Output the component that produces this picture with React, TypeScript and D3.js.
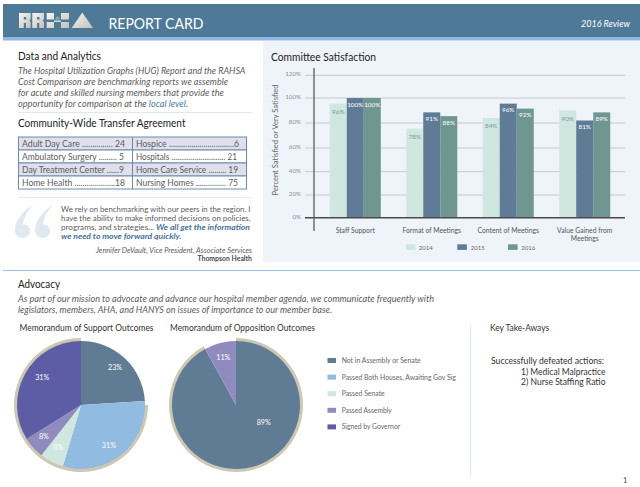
import React from "react";
import * as d3 from "d3";

const FONT = "Lato, 'Noto Sans', sans-serif";

const categories = ["Staff Support", "Format of Meetings", "Content of Meetings", "Value Gained from|Meetings"];
const years = ["2014", "2015", "2016"];
const barHeights = [
  [95.5, 100, 100],
  [75.5, 88.5, 85.5],
  [84, 95.5, 91.5],
  [90, 82, 88.5],
];
const barLabels = [
  ["96%", "100%", "100%"],
  ["78%", "91%", "88%"],
  ["84%", "96%", "92%"],
  ["90%", "81%", "89%"],
];
const yTicks = [0, 20, 40, 60, 80, 100, 120];
const yRange = [217.7, 195, 171.7, 148, 123, 98, 75.3];
const yearColors = ["#cfe7df", "#607b96", "#6f9690"];

const outcomeNames = ["Not in Assembly or Senate", "Passed Both Houses, Awaiting Gov Sig", "Passed Senate", "Passed Assembly", "Signed by Governor"];
const outcomeColors = ["#607b94", "#92bbe1", "#cfe7df", "#8f8bbf", "#5d5da5"];
const supportShares = [24, 30.6, 6, 5.5, 33.9];
const supportLabels = ["23%", "31%", "8%", "8%", "31%"];
const oppositionShares = [92, 8];
const oppositionLabels = ["89%", "11%"];
const oppositionColors = ["#607b94", "#8f8bbf"];

const tableLeft = ["Adult Day Care ............... 24", "Ambulatory Surgery ......... 5", "Day Treatment Center ......9", "Home Health ....................18"];
const tableRight = ["Hospice ................................6", "Hospitals ............................ 21", "Home Care Service ......... 19", "Nursing Homes ............... 75"];

const INK = "#222";
const BODY = "#5c5c5c";

function T({ x, y, w, s = 9, c = BODY, i = false, b = false, a = "start", children, ...rest }: any) {
  return (
    <text x={x} y={y} fontSize={s} fill={c} fontFamily={FONT} fontStyle={i ? "italic" : "normal"} fontWeight={b ? 700 : 400}
      textAnchor={a} textLength={w} lengthAdjust={w ? "spacingAndGlyphs" : undefined} {...rest}>{children}</text>
  );
}

function Pie({ cx, cy, shares, labels, colors, ringFrom, ringTo, nudges }: any) {
  const r = 64;
  const slices = d3.pie<number>().sort(null)(shares);
  const arc = d3.arc<any>().innerRadius(0).outerRadius(r);
  const lab = d3.arc<any>().innerRadius(r * 0.8).outerRadius(r * 0.8);
  const ring = d3.arc<any>().innerRadius(r - 1).outerRadius(r + 3)({ startAngle: ringFrom, endAngle: ringTo } as any) as string;
  return (
    <g transform={`translate(${cx},${cy})`}>
      <path d={ring} fill="#cdc8b4" />
      {slices.map((d, k) => <path key={k} d={arc(d) as string} fill={colors[k]} />)}
      {slices.map((d, k) => {
        const [px, py] = lab.centroid(d);
        return <T key={k} x={px + nudges[k][0]} y={py + nudges[k][1] + 2.5} s={7.2} c="#fff" a="middle">{labels[k]}</T>;
      })}
    </g>
  );
}

const QUOTE_MARK = "M33 205C24 210 15 220 15 230C15 235 18 238 22.5 238C27 238 30 235 30 231C30 227 27 224 23 224.5C24 217 28 210 33 205Z";

export default function App() {
  document.body.style.margin = "0";
  const x0 = d3.scaleBand<string>().domain(categories).range([317, 623]).paddingInner(0.333).paddingOuter(0.167);
  const x1 = d3.scaleBand<string>().domain(years).range([0, x0.bandwidth()]);
  const y = d3.scaleLinear().domain(yTicks).range(yRange);
  const T2 = Math.PI * 2;

  return (
    <svg width={640} height={487} style={{ position: "absolute", left: 0, top: 0, background: "#fff" }}>
      <defs>
        <linearGradient id="logo" x1="0" y1="0" x2="1" y2="1">
          <stop offset="0" stopColor="#f6f6f4" />
          <stop offset="1" stopColor="#c4c0b9" />
        </linearGradient>
      </defs>
      {/* header */}
      <rect x={3} y={4} width={637} height={33} fill="#4f7a97" />
      <rect x={3} y={37} width={637} height={3.5} fill="#8db8e3" />
      <g fill="url(#logo)">
        <path d="M19 13h11.7v6.5h-1v2h1V28h-4.7v-5h-2.2v5H19zM23.8 17v2.5h2.4V17z" fillRule="evenodd" />
        <path d="M32.3 13H44v6.5h-1v2h1V28h-4.7v-5h-2.2v5h-4.8zM37.1 17v2.5h2.4V17z" fillRule="evenodd" />
        <path d="M46.7 13H54v6.5h-7.3zM46.7 22H54v6h-7.3zM61 13h8v6.5h-8zM61 22h8v6h-8zM54 20.5h7v1.5h-7z" />
        <path d="M82.3 12.5L93 28H71.7z" />
      </g>
      <path d="M57.5 16l3 3.5h-6z" fill="#7fb3ad" />
      <T x={108.5} y={29} w={95} s={15} c="#fff">REPORT CARD</T>
      <T x={630} y={27} s={9} c="#fff" i a="end">2016 Review</T>

      {/* Data and Analytics */}
      <T x={18} y={60} w={83} s={11} c={INK}>Data and Analytics</T>
      <T x={18} y={73.5} w={227.5} i>The Hospital Utilization Graphs (HUG) Report and the RAHSA</T>
      <T x={18} y={84.5} w={210} i>Cost Comparison are benchmarking reports we assemble</T>
      <T x={18} y={95.5} w={206} i>for acute and skilled nursing members that provide the</T>
      <T x={18} y={106.5} w={170} i>opportunity for comparison at the <tspan fill="#4a7ba6">local level</tspan>.</T>
      <line x1={18} x2={252} y1={112.5} y2={112.5} stroke="#dfe8f2" />
      <T x={18} y={126.5} w={167.5} s={11} c={INK}>Community-Wide Transfer Agreement</T>

      {/* table */}
      {tableLeft.map((t, k) => (
        <g key={k}>
          <rect x={18.5} y={137 + k * 13} width={228} height={13} fill={k % 2 === 0 ? "#dfe0ec" : "#fff"} stroke="#6a8cab" strokeWidth={1} />
          <T x={22} y={146.8 + k * 13} w={[103, 102, 102, 103][k]} s={8.8}>{t}</T>
          <T x={136} y={146.8 + k * 13} w={[103, 101, 102, 102][k]} s={8.8}>{tableRight[k]}</T>
        </g>
      ))}
      <line x1={132.5} x2={132.5} y1={137} y2={189} stroke="#6a8cab" />
      <line x1={18} x2={252} y1={197.5} y2={197.5} stroke="#e6ecf3" />

      {/* quote */}
      <path d={QUOTE_MARK} fill="#e1e8ef" />
      <path d={QUOTE_MARK} fill="#e1e8ef" transform="translate(20,0)" />
      <T x={61} y={211.5} w={189.5} s={7.5}>We rely on benchmarking with our peers in the region. I</T>
      <T x={61} y={220.5} w={189.5} s={7.5}>have the ability to make informed decisions on policies,</T>
      <T x={61} y={229.8} w={93} s={7.5}>programs, and strategies...</T>
      <T x={156} y={229.8} w={94} s={7.5} c="#4a7199" i b>We all get the information</T>
      <T x={61} y={239} w={120.5} s={7.5} c="#4a7199" i b>we need to move forward quickly.</T>
      <T x={96} y={252.5} w={156} s={6.8} i>Jennifer DeVault, Vice President, Associate Services</T>
      <T x={197.5} y={261} w={54.5} s={6.8} c="#4a4a4a" b>Thompson Health</T>

      {/* chart panel */}
      <rect x={263} y={41} width={377} height={221} fill="#eff4fb" />
      <T x={271} y={60.5} w={105} s={11} c={INK}>Committee Satisfaction</T>
      {yTicks.map((t) => (
        <g key={t}>
          {t > 0 && <line x1={305} x2={625} y1={y(t)} y2={y(t)} stroke="#c6c9ca" strokeWidth={1} />}
          <T x={301} y={y(t) + 1} s={6.2} a="end" c="#8a8f95">{t}%</T>
        </g>
      ))}
      {categories.map((cat, g) => (
        <g key={cat} transform={`translate(${x0(cat)},0)`}>
          {years.map((yr, k) => (
            <rect key={yr} x={x1(yr)} y={y(barHeights[g][k])} width={x1.bandwidth()} height={y(0) - y(barHeights[g][k])} fill={yearColors[k]} />
          ))}
          {years.map((yr, k) => (
            <T key={yr} x={(x1(yr) as number) + x1.bandwidth() / 2} y={y(barHeights[g][k]) + (k === 0 ? 10 : 8.5)} s={6.4} a="middle" c={k === 0 ? "#7d95aa" : "#fff"}>{barLabels[g][k]}</T>
          ))}
          {cat.split("|").map((line, n) => (
            <T key={n} x={x0.bandwidth() / 2} y={232.5 + n * 8} s={6.8} a="middle" c="#555">{line}</T>
          ))}
        </g>
      ))}
      <line x1={305} x2={625} y1={217.7} y2={217.7} stroke="#4a4a4a" strokeWidth={1.4} />
      <line x1={314} x2={314} y1={68} y2={231} stroke="#666" strokeWidth={1.4} />
      <T x={0} y={0} w={111} s={7.4} a="middle" c="#666" transform="translate(278,140) rotate(-90)">Percent Satisfied or Very Satisfied</T>
      {years.map((yr, k) => (
        <g key={yr}>
          <rect x={[406, 457.3, 508][k]} y={244.3} width={9.6} height={5.6} fill={yearColors[k]} />
          <T x={[418.7, 470.7, 521.3][k]} y={249.5} s={6} c="#666">{yr}</T>
        </g>
      ))}

      {/* advocacy */}
      <line x1={3} x2={640} y1={270.5} y2={270.5} stroke="#9cc3e8" />
      <T x={18} y={288} w={42} s={11} c={INK}>Advocacy</T>
      <T x={18} y={302} w={416} i>As part of our mission to advocate and advance our hospital member agenda, we communicate frequently with</T>
      <T x={18} y={313} w={314} i>legislators, members, AHA, and HANYS on issues of importance to our member base.</T>
      <T x={19.5} y={331} w={134} s={8.8} c="#333">Memorandum of Support Outcomes</T>
      <T x={170} y={331} w={145} s={8.8} c="#333">Memorandum of Opposition Outcomes</T>

      <Pie cx={81} cy={405} shares={supportShares} labels={supportLabels} colors={outcomeColors}
        ringFrom={Math.PI / 2} ringTo={T2} nudges={[[-1, 0], [-4, 0], [1, -3], [1, -3], [6, -3]]} />
      <Pie cx={236} cy={405} shares={oppositionShares} labels={oppositionLabels} colors={oppositionColors}
        ringFrom={0} ringTo={T2 * 0.92} nudges={[[15, -32], [0, 2]]} />

      {outcomeNames.map((n, k) => (
        <g key={n}>
          <rect x={327.5} y={358 + k * 16.6} width={8.5} height={5} fill={outcomeColors[k]} />
          <T x={341.7} y={363 + k * 16.6} w={[79, 114, 43, 50, 58.5][k]} s={6.8} c="#666">{n}</T>
        </g>
      ))}
      <line x1={470.5} x2={470.5} y1={325} y2={476} stroke="#dfe8f2" />
      <T x={490} y={331} w={59} s={8.8} c="#333">Key Take-Aways</T>
      <T x={491} y={364} w={113} s={8.6} c="#333">Successfully defeated actions:</T>
      <T x={521} y={374.5} w={84.5} s={8.6} c="#333">1) Medical Malpractice</T>
      <T x={521} y={384.5} w={84.5} s={8.6} c="#333">2) Nurse Staffing Ratio</T>
      <T x={623} y={483} s={7.5} c="#444">1</T>
    </svg>
  );
}
